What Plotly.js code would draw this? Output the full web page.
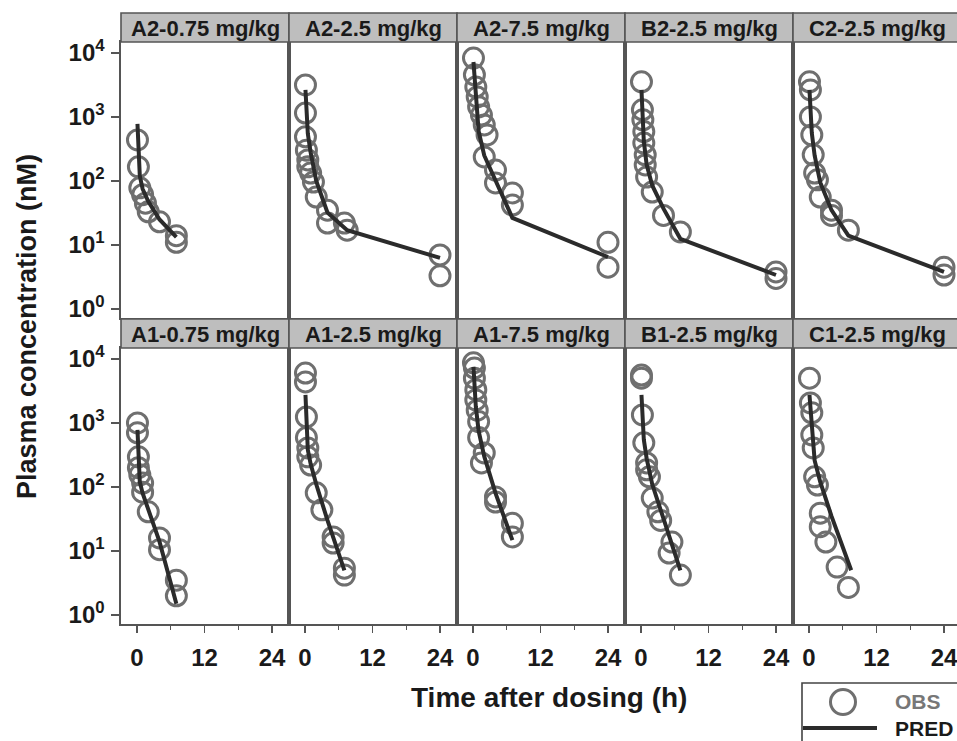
<!DOCTYPE html>
<html>
<head>
<meta charset="utf-8">
<script src="https://cdn.plot.ly/plotly-3.0.1.min.js"></script>
<style>html,body{margin:0;padding:0;background:#fff;}#chart{width:957px;height:741px;}</style>
</head>
<body>
<div id="chart"></div>
<script>
// ---------- data ----------
const panelNames = ["A2-0.75 mg/kg","A2-2.5 mg/kg","A2-7.5 mg/kg","B2-2.5 mg/kg","C2-2.5 mg/kg",
                    "A1-0.75 mg/kg","A1-2.5 mg/kg","A1-7.5 mg/kg","B1-2.5 mg/kg","C1-2.5 mg/kg"];
const xTickVals = [0, 12, 24];
const xTickText = ["0", "12", "24"];
const yTickVals = [1, 10, 100, 1000, 10000];
const yTickText = ["10<sup>0</sup>","10<sup>1</sup>","10<sup>2</sup>","10<sup>3</sup>","10<sup>4</sup>"];
const legendLabels = ["OBS", "PRED"];

// A2-0.75
const A2_075_obsT = [0.083,0.25,0.5,1,1.5,2,4,7,7];
const A2_075_obsC = [437,166,78,61,45,33,23,14,11];
const A2_075_predT = [0.083,0.25,0.5,1,2,4,7];
const A2_075_predC = [780,280,120,75,48,25,13.3];
// A2-2.5
const A2_25_obsT = [0.083,0.083,0.083,0.25,0.5,0.5,1,1.5,2,4,4,7,7.5,24,24];
const A2_25_obsC = [3162,1150,490,303,213,166,133,96,56,35,22,22,17,7,3.3];
const A2_25_predT = [0.083,0.25,0.5,1,2,4,7.5,24];
const A2_25_predC = [2640,1100,550,280,100,32,17,6.3];
// A2-7.5
const A2_75_obsT = [0.083,0.25,0.5,0.75,1,1.5,2,2.5,2,4,4,7,7,24,24];
const A2_75_obsC = [8300,4550,2930,2050,1440,1070,750,523,237,148,93,65,42,11,4.5];
const A2_75_predT = [0.083,0.5,1,2,4,7,24];
const A2_75_predC = [7200,1800,600,250,100,26.5,6.5];
// B2-2.5
const B2_25_obsT = [0.083,0.25,0.33,0.5,0.5,0.75,0.75,1,2,4,7,24,24];
const B2_25_obsC = [3530,1290,900,590,390,256,178,115,67,29,16,3.8,3.0];
const B2_25_predT = [0.083,0.25,0.5,1,2,4,7,24];
const B2_25_predC = [2640,900,420,180,85,37,12.5,3.4];
// C2-2.5
const C2_25_obsT = [0.083,0.25,0.25,0.5,0.75,1,1.5,2,4,4,7,24,24];
const C2_25_obsC = [3530,2640,1000,523,256,133,104,56,35,29,17,4.5,3.4];
const C2_25_predT = [0.083,0.25,0.5,1,2,4,7,24];
const C2_25_predC = [2640,1200,560,250,95,35,14,3.8];
// A1-0.75
const A1_075_obsT = [0.083,0.083,0.25,0.25,0.5,1,1,2,4,4,7,7];
const A1_075_obsC = [1000,700,295,200,155,115,83,41,16,10.5,3.5,2.0];
const A1_075_predT = [0.083,0.25,0.5,1,2,4,7];
const A1_075_predC = [780,250,120,80,45,14,1.5];
// A1-2.5
const A1_25_obsT = [0.083,0.083,0.25,0.25,0.5,0.5,1,2,3,5,5,7,7];
const A1_25_obsC = [6000,4370,1240,590,407,295,220,81,44,16.6,13.3,5.4,4.2];
const A1_25_predT = [0.083,0.25,0.5,1,2,4,7];
const A1_25_predC = [2740,900,380,230,110,30,5];
// A1-7.5
const A1_75_obsT = [0.083,0.25,0.25,0.5,0.5,0.75,1,1,2,1.5,4,4,7,7];
const A1_75_obsC = [8700,7200,5000,3300,2290,1580,1050,590,340,237,70,58,27,16.6];
const A1_75_predT = [0.083,0.5,1,2,4,7];
const A1_75_predC = [7500,1800,750,300,80,14.8];
// B1-2.5
const B1_25_obsT = [0.083,0.083,0.25,0.5,1,1,1.5,2,3,3.5,5.5,5,7];
const B1_25_obsC = [5600,5000,1330,490,237,185,144,67,41,30,13.8,9.3,4.2];
const B1_25_predT = [0.083,0.25,0.5,1,2,4,7];
const B1_25_predC = [2740,1300,550,280,110,32,5];
// C1-2.5
const C1_25_obsT = [0.083,0.25,0.5,0.5,0.75,1,1.5,2,2,3,5,7];
const C1_25_obsC = [5000,2050,1440,650,407,144,107,39,24,13.8,5.6,2.7];
const C1_25_predT = [0.083,0.5,1,2,4,7.5];
const C1_25_predC = [2740,800,260,120,35,5];

const obsT = [A2_075_obsT,A2_25_obsT,A2_75_obsT,B2_25_obsT,C2_25_obsT,A1_075_obsT,A1_25_obsT,A1_75_obsT,B1_25_obsT,C1_25_obsT];
const obsC = [A2_075_obsC,A2_25_obsC,A2_75_obsC,B2_25_obsC,C2_25_obsC,A1_075_obsC,A1_25_obsC,A1_75_obsC,B1_25_obsC,C1_25_obsC];
const predT = [A2_075_predT,A2_25_predT,A2_75_predT,B2_25_predT,C2_25_predT,A1_075_predT,A1_25_predT,A1_75_predT,B1_25_predT,C1_25_predT];
const predC = [A2_075_predC,A2_25_predC,A2_75_predC,B2_25_predC,C2_25_predC,A1_075_predC,A1_25_predC,A1_75_predC,B1_25_predC,C1_25_predC];

// ---------- layout geometry (pixels) ----------
const W = 957, H = 741;
const FONT = "Liberation Sans, Arial, sans-serif";
const px = v => v / W;
const py = v => 1 - v / H;
const colL = [121, 289, 457, 625, 793];
const panelW = 168;
const rowTop = [42, 348];     // plot area tops
const rowBot = [318, 624];    // plot area bottoms
const stripTop = [13, 319];
const pxPerH = 5.625;
const zeroOff = 16;
const yRange = [-0.14, 4.17];
const lineCol = "#555555";
const obsCol = "#6f6f6f";
const predCol = "#2b2b2b";

const traces = [];
const layout = {
  width: W, height: H,
  margin: {l: 0, r: 0, t: 0, b: 0},
  paper_bgcolor: "#ffffff", plot_bgcolor: "#ffffff",
  showlegend: false,
  shapes: [], annotations: []
};

for (let i = 0; i < 10; i++) {
  const row = i < 5 ? 0 : 1;
  const col = i % 5;
  const L = colL[col];
  const R = Math.min(L + panelW, W);
  const sfx = i === 0 ? "" : String(i + 1);
  const xa = "x" + sfx, ya = "y" + sfx;

  layout["xaxis" + sfx] = {
    domain: [px(L), px(R)],
    anchor: ya,
    range: [-zeroOff / pxPerH, (R - L - zeroOff) / pxPerH],
    showgrid: false, zeroline: false,
    showline: true, mirror: true, linecolor: lineCol, linewidth: 1.6,
    tickvals: xTickVals, ticktext: xTickText,
    ticks: row === 1 ? "outside" : "", ticklen: 7, tickwidth: 1.5, tickcolor: lineCol,
    minor: row === 1 ? {tickvals: [6, 18], ticks: "outside", ticklen: 4, tickwidth: 1.2, tickcolor: lineCol} : {},
    showticklabels: row === 1,
    ticklabelstandoff: 5,
    ticklabeloverflow: "allow",
    tickfont: {family: FONT, size: 24, weight: 700, color: "#1a1a1a"},
    fixedrange: true
  };
  layout["yaxis" + sfx] = {
    domain: [py(rowBot[row]), py(rowTop[row])],
    anchor: xa,
    type: "log",
    range: yRange,
    showgrid: false, zeroline: false,
    showline: true, mirror: col !== 4, linecolor: lineCol, linewidth: 1.6,
    tickvals: yTickVals, ticktext: yTickText,
    ticks: col === 0 ? "outside" : "", ticklen: 8, tickwidth: 1.5, tickcolor: lineCol,
    showticklabels: col === 0,
    ticklabelstandoff: 2,
    tickfont: {family: FONT, size: 24, weight: 700, color: "#1a1a1a"},
    fixedrange: true
  };

  traces.push({
    type: "scatter", mode: "markers", x: obsT[i], y: obsC[i], xaxis: xa, yaxis: ya,
    name: legendLabels[0],
    marker: {symbol: "circle-open", size: 20, color: obsCol, line: {width: 3, color: obsCol}},
    hoverinfo: "skip"
  });
  traces.push({
    type: "scatter", mode: "lines", x: predT[i], y: predC[i], xaxis: xa, yaxis: ya,
    name: legendLabels[1],
    line: {color: predCol, width: 4},
    hoverinfo: "skip"
  });

  // strip
  layout.shapes.push({
    type: "rect", xref: "paper", yref: "paper",
    x0: px(L), x1: px(L + panelW), y0: py(rowTop[row]), y1: py(stripTop[row]),
    fillcolor: "#bebebe", line: {color: lineCol, width: 1.6}, layer: "above"
  });
  layout.annotations.push({
    xref: "paper", yref: "paper", x: px(L + panelW / 2), y: py((stripTop[row] + rowTop[row]) / 2 + 1),
    xanchor: "center", yanchor: "middle", showarrow: false,
    text: panelNames[i],
    font: {family: FONT, size: 22, weight: 700, color: "#1a1a1a"}
  });
}

// axis titles
layout.annotations.push({
  xref: "paper", yref: "paper", x: px(549), y: py(697), xanchor: "center", yanchor: "middle",
  showarrow: false, text: "Time after dosing (h)",
  font: {family: FONT, size: 28, weight: 700, color: "#1a1a1a"}
});
layout.annotations.push({
  xref: "paper", yref: "paper", x: px(27), y: py(327), xanchor: "center", yanchor: "middle",
  showarrow: false, text: "Plasma concentration (nM)", textangle: -90,
  font: {family: FONT, size: 27, weight: 700, color: "#1a1a1a"}
});

// legend (frame, keys and labels)
layout.shapes.push({
  type: "rect", xref: "paper", yref: "paper",
  x0: px(802), x1: px(990), y0: py(770), y1: py(683),
  fillcolor: "rgba(0,0,0,0)", line: {color: "#444", width: 1.6}
});
layout.shapes.push({
  type: "circle", xref: "paper", yref: "paper",
  x0: px(830.5), x1: px(855.5), y0: py(714.5), y1: py(689.5),
  fillcolor: "rgba(0,0,0,0)", line: {color: obsCol, width: 3}
});
layout.shapes.push({
  type: "line", xref: "paper", yref: "paper",
  x0: px(803), x1: px(877), y0: py(728), y1: py(728),
  line: {color: predCol, width: 4}
});
layout.annotations.push({
  xref: "paper", yref: "paper", x: px(893), y: py(701), xanchor: "left", yanchor: "middle",
  showarrow: false, text: legendLabels[0],
  font: {family: FONT, size: 21, weight: 700, color: "#777777"}
});
layout.annotations.push({
  xref: "paper", yref: "paper", x: px(893), y: py(728), xanchor: "left", yanchor: "middle",
  showarrow: false, text: legendLabels[1],
  font: {family: FONT, size: 21, weight: 700, color: "#1a1a1a"}
});

Plotly.newPlot("chart", traces, layout, {staticPlot: true, displayModeBar: false});
</script>
</body>
</html>
